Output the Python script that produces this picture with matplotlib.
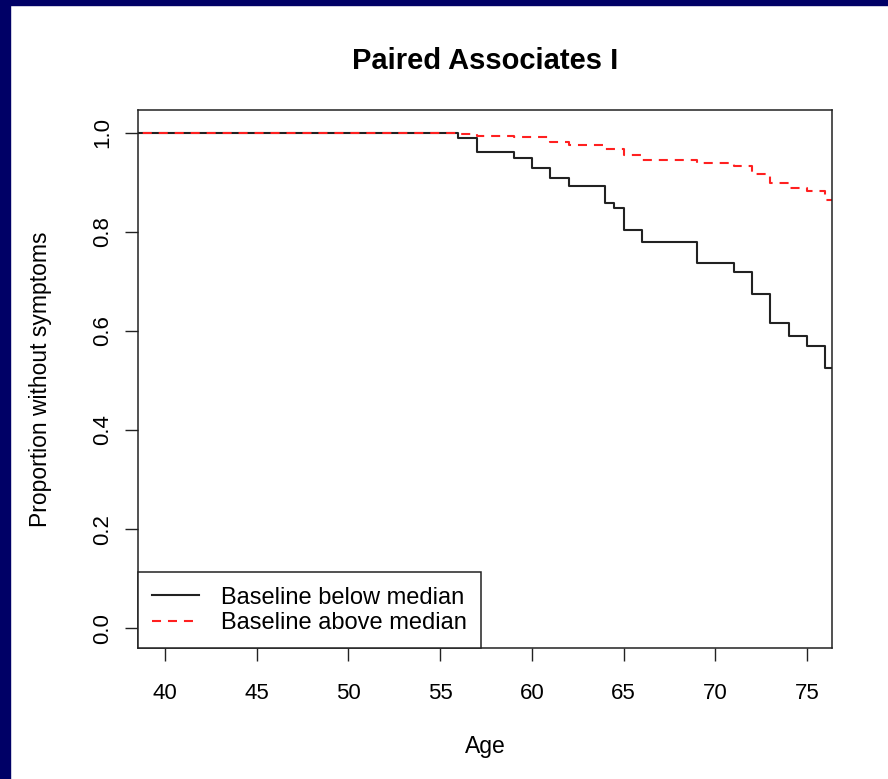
import matplotlib
matplotlib.use("Agg")
import matplotlib.pyplot as plt
from matplotlib.patches import Rectangle

plt.rcParams["font.family"] = ["Liberation Sans", "DejaVu Sans"]
plt.rcParams["lines.scale_dashes"] = False

# Kaplan-Meier style steps (age, proportion)
below_age = [0, 56, 57, 59, 60, 61, 62, 64, 64.5, 65, 66, 69, 71, 72, 73, 74, 75, 76, 80]
below_prop = [1.0, 0.989, 0.962, 0.950, 0.929, 0.908, 0.892, 0.859, 0.848, 0.804,
              0.779, 0.738, 0.718, 0.674, 0.616, 0.590, 0.570, 0.526, 0.526]

above_age = [0, 56, 57, 59, 61, 62, 64, 65, 66, 69, 71, 72, 73, 74, 75, 76, 80]
above_prop = [1.0, 0.997, 0.994, 0.991, 0.982, 0.976, 0.968, 0.956, 0.945,
              0.939, 0.932, 0.917, 0.899, 0.889, 0.883, 0.865, 0.865]

x_ticks = [40, 45, 50, 55, 60, 65, 70, 75]
y_ticks = [0.0, 0.2, 0.4, 0.6, 0.8, 1.0]
y_tick_labels = ["0.0", "0.2", "0.4", "0.6", "0.8", "1.0"]

W, H = 888, 779
fig = plt.figure(figsize=(W / 100, H / 100), dpi=100)
fig.patch.set_facecolor("white")

# navy slide border
fig.patches.append(Rectangle((0, 0), 10 / W, 1, transform=fig.transFigure,
                             color="#000066", zorder=0))
fig.patches.append(Rectangle((0, 1 - 5 / H), 1, 5 / H, transform=fig.transFigure,
                             color="#000066", zorder=0))

ax = fig.add_axes([138 / W, 1 - 648 / H, (832 - 138) / W, (648 - 110) / H])

ax.step(below_age, below_prop, where="post", color="#222222", lw=1.5,
        label="Baseline below median")
ax.step(above_age, above_prop, where="post", color="#ff2020", lw=1.5,
        dashes=(6.5, 5), label="Baseline above median")

ax.set_xlim(38.53, 76.36)
ax.set_ylim(-0.04, 1.046)
ax.set_xticks(x_ticks)
ax.set_yticks(y_ticks)
ax.set_yticklabels(y_tick_labels, rotation=90, va="center")
ax.tick_params(axis="both", direction="out", length=9.5, width=1.0,
               labelsize=16, color="#222222")
ax.tick_params(axis="x", pad=15.5)
ax.tick_params(axis="y", pad=8.5)
for s in ax.spines.values():
    s.set_linewidth(1.1)
    s.set_color("#222222")

leg = ax.legend(loc="lower left", bbox_to_anchor=(0, 0), borderaxespad=0,
                fancybox=False, edgecolor="#222222", framealpha=1,
                fontsize=17, handlelength=2.0, handletextpad=0.9,
                borderpad=0.6, labelspacing=0.14)
leg.get_frame().set_linewidth(1.1)

fig.text(485 / W, 1 - 61 / H, "Paired Associates I", fontsize=21,
         fontweight="bold", ha="center", va="center")
fig.text(485 / W, 1 - 746 / H, "Age", fontsize=16.5, ha="center", va="center")
fig.text(41 / W, 1 - 379 / H, "Proportion without symptoms", fontsize=16.5,
         rotation=90, ha="center", va="center")

fig.savefig("out.png", dpi=100)
